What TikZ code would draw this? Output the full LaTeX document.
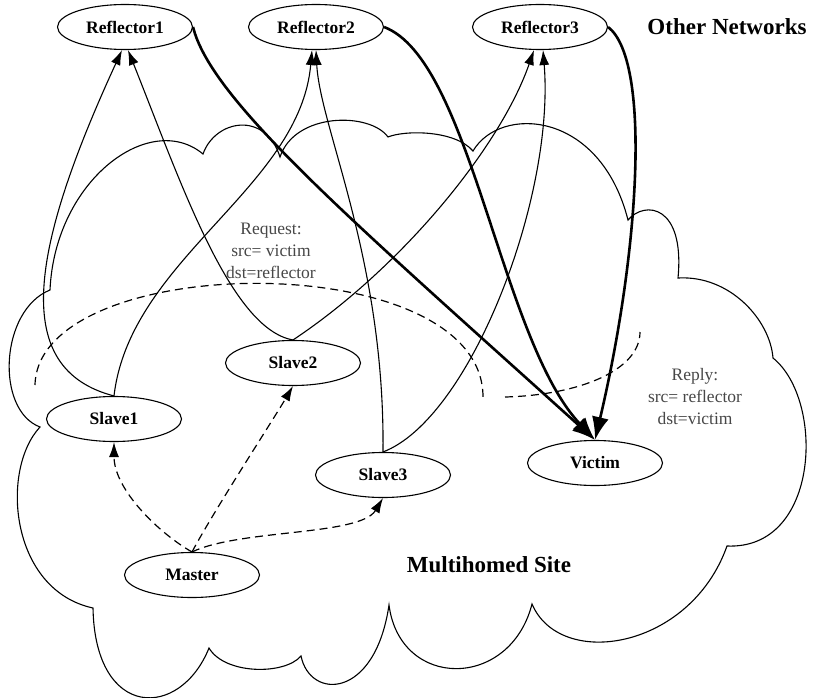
\documentclass[tikz,border=0pt]{standalone}
\usepackage{fontspec}
\setmainfont{Liberation Serif}
\usetikzlibrary{shapes.geometric, arrows.meta}

\begin{document}
\begin{tikzpicture}[x=1pt, y=-1pt,
        host/.style={draw, ellipse, fill=white, line width=1.1pt, minimum width=135pt, minimum height=45pt, inner sep=0pt, font=\fontsize{17.5}{20}\selectfont\bfseries},
        req/.style={line width=1.1pt, -{Latex[length=15pt, width=10pt]}},
        reply/.style={line width=2.6pt, -{Latex[length=23pt, width=17pt]}},
        ctrl/.style={line width=1.2pt, dash pattern=on 8pt off 5pt, -{Latex[length=15pt, width=10pt]}},
        border/.style={line width=1.2pt, dash pattern=on 8pt off 5pt},
        note/.style={align=center, text=black!72, font=\fontsize{17.5}{22}\selectfont},
        title/.style={font=\fontsize{23}{26}\selectfont\bfseries}]
        \useasboundingbox (0,0) rectangle (813,698);

        % Site cloud
        \draw[line width=1.1pt] (50,290) .. controls (55,180) and (150,110) .. (203,154)
            .. controls (215,120) and (265,110) .. (280,157)
            .. controls (295,112) and (370,112) .. (388,137)
            .. controls (405,130) and (455,130) .. (473,151)
            .. controls (500,105) and (600,110) .. (628,220)
            .. controls (645,200) and (685,205) .. (678,278)
            .. controls (730,275) and (770,320) .. (773,358)
            .. controls (825,400) and (820,550) .. (727,546)
            .. controls (690,650) and (560,670) .. (532,604)
            .. controls (510,690) and (400,690) .. (389,605)
            .. controls (375,700) and (310,700) .. (301,656)
            .. controls (285,675) and (225,675) .. (209,648)
            .. controls (180,720) and (95,720) .. (93,608)
            .. controls (10,590) and (0,470) .. (40,427)
            .. controls (-5,410) and (0,310) .. (50,290) -- cycle;

        % Request and reply areas
        \draw[border] (35,385) .. controls (38,250) and (483,245) .. (483,397);
        \draw[border] (505,397) .. controls (580,395) and (640,370) .. (640,332);

        % Hosts
        \node[host] (refl1) at (125,27) {Reflector1};
        \node[host] (refl2) at (316,27) {Reflector2};
        \node[host] (refl3) at (540,27) {Reflector3};
        \node[host] (slave1) at (114,419) {Slave1};
        \node[host] (slave2) at (293,363) {Slave2};
        \node[host] (slave3) at (383,475) {Slave3};
        \node[host] (victim) at (595,463) {Victim};
        \node[host] (master) at (192,575) {Master};

        % Labels
        \node[title] (other) at (727,27) {Other Networks};
        \node[title] (site) at (489,565) {Multihomed Site};
        \node[note] (request) at (271,251) {Request:\\src= victim\\dst=reflector};
        \node[note] (reply) at (695,397) {Reply:\\src= reflector\\dst=victim};

        % Master to slaves
        \draw[ctrl] (master.north) .. controls +(-32,-18) and +(0,48) .. (slave1.south);
        \draw[ctrl] (master.north) .. controls +(23,-43) and +(-20,34) .. (slave2.south);
        \draw[ctrl] (master.north) .. controls +(48,-23) and +(-23,38) .. (slave3.south);

        % Slaves to reflectors
        \draw[req] (slave1.north) .. controls +(-104,-27) and +(-92,200) .. ([xshift=-3pt]refl1.south);
        \draw[req] (slave2.north) .. controls +(-63,-11) and +(52,130) .. ([xshift=3pt]refl1.south);
        \draw[req] (slave1.north) .. controls +(16,-137) and +(-12,138) .. ([xshift=-4pt]refl2.south);
        \draw[req] (slave3.north) .. controls +(2,-193) and +(4,78) .. (refl2.south);
        \draw[req] (slave2.north) .. controls +(107,-71) and +(-34,98) .. ([xshift=-6pt]refl3.south);
        \draw[req] (slave3.north) .. controls +(87,-33) and +(12,148) .. ([xshift=3pt]refl3.south);

        % Reflectors to victim
        \draw[reply] (refl1.east) .. controls +(18,73) and +(-245,-221) .. (victim.north);
        \draw[reply] (refl2.east) .. controls +(87,33) and +(-95,-101) .. (victim.north);
        \draw[reply] (refl3.east) .. controls +(43,33) and +(45,-191) .. (victim.north);
    \end{tikzpicture}
\end{document}
